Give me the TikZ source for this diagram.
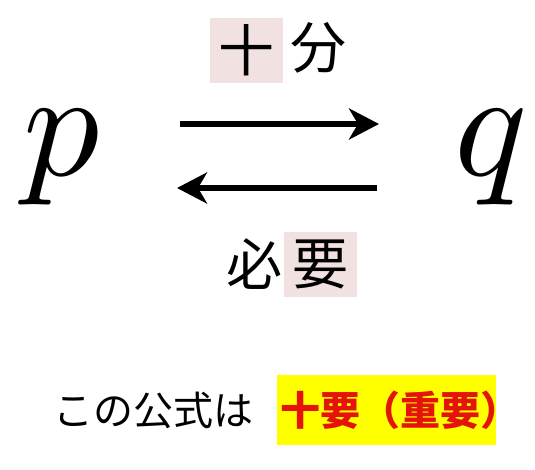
\documentclass[tikz,border=0pt]{standalone}
\usepackage{fontspec}
\usepackage{unicode-math}
\setmathfont{Latin Modern Math}
\usetikzlibrary{arrows.meta}
\newfontfamily\jp{Noto Sans CJK JP}
\definecolor{pinkbg}{RGB}{242,225,225}
\definecolor{hlyellow}{RGB}{255,255,0}
\definecolor{hlred}{RGB}{228,20,10}
\tikzset{
  varletter/.style={inner sep=0pt, anchor=base west, font=\fontsize{152}{152}\selectfont},
  toplabel/.style={inner sep=0pt, font=\jp\fontsize{56}{56}\selectfont},
  pinkbox/.style={toplabel, fill=pinkbg, minimum width=73pt, minimum height=65pt},
  implarrow/.style={line width=6pt, -{Stealth[length=30pt, width=31pt, inset=9pt]}},
  plaintext/.style={inner sep=0pt, font=\jp\fontsize{40}{40}\selectfont},
  hlbox/.style={fill=hlyellow, text=hlred, minimum width=219pt, minimum height=70pt, inner sep=0pt, font=\jp\bfseries\fontsize{40}{40}\selectfont}
}
\begin{document}
\begin{tikzpicture}[x=1pt, y=-1pt]
\useasboundingbox (0,0) rectangle (535,469);
\node[varletter] (p) at (23,175.5) {$p$};
\node[varletter] (q) at (454,175.5) {$q$};
\coordinate (a1s) at (180,124);
\coordinate (a1e) at (379,124);
\coordinate (a2s) at (377,188);
\coordinate (a2e) at (177,188);
\draw[implarrow] (a1s) -- (a1e);
\draw[implarrow] (a2s) -- (a2e);
\node[pinkbox] (ju) at (246.5,50.5) {十};
\node[toplabel] (bun) at (318.5,48) {分};
\node[toplabel] (hitsu) at (254.5,264.5) {必};
\node[pinkbox] (you) at (320.5,264.5) {要};
\node[plaintext] (formula) at (153,410) {この公式は};
\node[hlbox] (key) at (386.5,410) {\makebox[213pt][l]{十要（重要）}};
\end{tikzpicture}
\end{document}
